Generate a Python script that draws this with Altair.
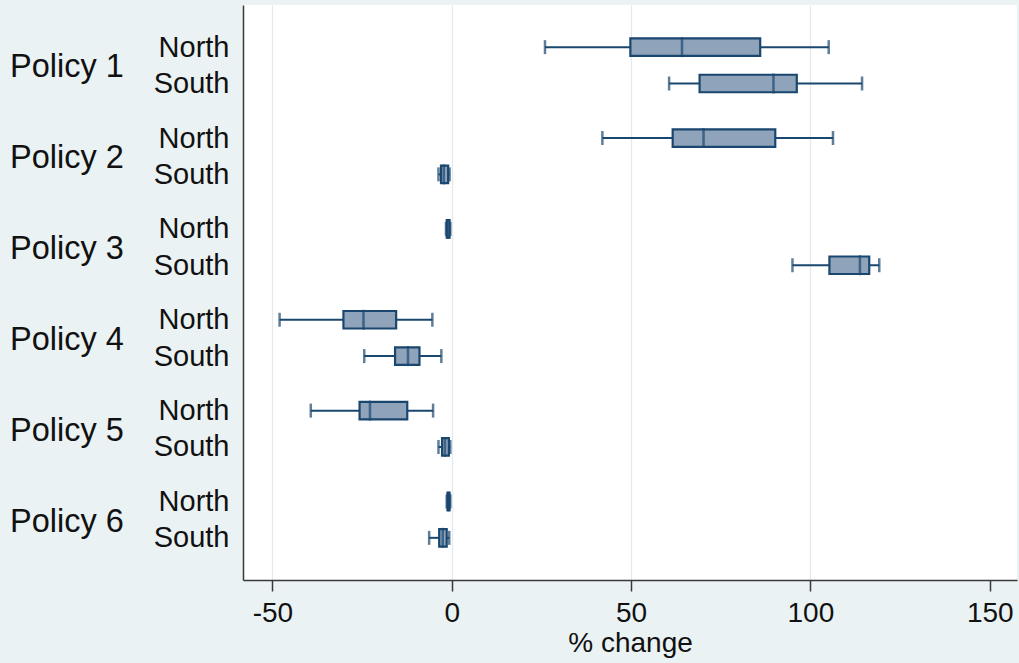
import altair as alt
import pandas as pd

policies = ["Policy 1", "Policy 2", "Policy 3", "Policy 4", "Policy 5", "Policy 6"]
regions = ["North", "South"]

# order: P1 North, P1 South, P2 North, ...
whisker_lo = [26.0, 60.6, 42.0, -3.7, -1.6, 95.0, -48.0, -24.4, -39.3, -3.7, -1.4, -6.3]
q1 = [49.8, 69.1, 61.6, -3.0, -1.4, 105.3, -30.2, -15.8, -25.7, -2.7, -1.2, -3.5]
median = [64.2, 89.7, 70.2, -2.2, -1.0, 113.8, -24.6, -12.2, -22.8, -1.9, -0.9, -2.5]
q3 = [86.0, 96.2, 90.2, -1.0, -0.6, 116.4, -15.5, -9.0, -12.4, -0.8, -0.6, -1.4]
whisker_hi = [105.1, 114.4, 106.3, -0.6, -0.4, 119.2, -5.4, -2.9, -5.2, -0.4, -0.4, -0.7]

x_ticks = [-50, 0, 50, 100, 150]

rows = []
for i, p in enumerate(policies):
    for j, r in enumerate(regions):
        k = 2 * i + j
        rows.append({
            "policy": p, "region": r, "pos": 2.5 * i + j,
            "lo": whisker_lo[k], "q1": q1[k], "med": median[k],
            "q3": q3[k], "hi": whisker_hi[k],
        })
df = pd.DataFrame(rows)
lab = pd.DataFrame({"policy": policies, "pos": [2.5 * i + 0.5 for i in range(len(policies))]})

navy = "#1a476f"
fill = "#8fa3bb"
FONT = "Liberation Sans"

xscale = alt.Scale(domain=[-58.2, 157.6], nice=False, zero=False, padding=0)
yscale = alt.Scale(domain=[-1.16, 14.66], reverse=True, nice=False, zero=False, padding=0)

xaxis = alt.Axis(
    values=x_ticks, title="% change", grid=True,
    labelExpr="'' + datum.value",
    gridColor="#e1eaee", gridWidth=1.3,
    gridOpacity={"condition": {"test": "datum.value === 150", "value": 0}, "value": 1},
    domainColor="#3a3a3a", domainWidth=1.5, tickColor="#3a3a3a", tickWidth=1.5,
    tickSize=11, labelPadding=8, labelFontSize=28, labelFont=FONT, labelColor="#111111",
    titleFontSize=28, titleFont=FONT, titleFontWeight="normal", titleColor="#111111",
    titlePadding=2, labelFlush=False, labelOverlap=False,
)
yaxis = alt.Axis(
    values=[2.5 * i + j for i in range(6) for j in range(2)],
    labelExpr="(datum.value % 2.5) < 0.5 ? 'North' : 'South'",
    title=None, grid=False, ticks=False, labelPadding=14,
    domainColor="#3a3a3a", domainWidth=1.5,
    labelFontSize=29, labelFont=FONT, labelColor="#111111",
    labelOverlap=False, labelBound=False, labelFlush=False,
)

base = alt.Chart(df)

whisk = base.mark_rule(color=navy, strokeWidth=2).encode(
    x=alt.X("lo:Q", scale=xscale, axis=xaxis),
    x2="hi:Q",
    y=alt.Y("pos:Q", scale=yscale, axis=yaxis),
)
caps_lo = base.mark_tick(orient="vertical", color=navy, size=14, thickness=2.5).encode(
    x=alt.X("lo:Q", scale=xscale), y=alt.Y("pos:Q", scale=yscale)
)
caps_hi = base.mark_tick(orient="vertical", color=navy, size=14, thickness=2.5).encode(
    x=alt.X("hi:Q", scale=xscale), y=alt.Y("pos:Q", scale=yscale)
)
box = base.mark_bar(size=17.5, fill=fill, stroke=navy, strokeWidth=2.2, orient="horizontal").encode(
    x=alt.X("q1:Q", scale=xscale), x2="q3:Q", y=alt.Y("pos:Q", scale=yscale)
)
med = base.mark_tick(orient="vertical", color=navy, size=20, thickness=2.5).encode(
    x=alt.X("med:Q", scale=xscale), y=alt.Y("pos:Q", scale=yscale)
)
plabels = alt.Chart(lab).mark_text(
    align="left", baseline="middle", font=FONT, fontSize=32.5, color="#111111", dy=2
).encode(
    x=alt.value(-233),
    y=alt.Y("pos:Q", scale=yscale),
    text="policy:N",
)

chart = alt.layer(whisk, caps_lo, caps_hi, box, med, plabels).properties(
    width=774, height=575,
    autosize=alt.AutoSizeParams(type="none"),
    padding={"left": 243, "top": 5, "right": 2, "bottom": 83},
    background="#eaf2f3",
).configure_view(fill="white", stroke=None)

chart.save("out.html", embed_options={"renderer": "svg", "actions": False})
